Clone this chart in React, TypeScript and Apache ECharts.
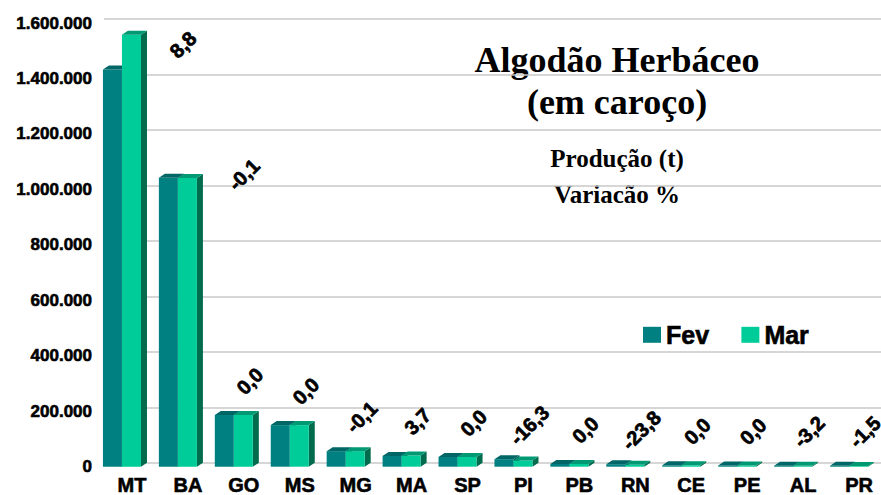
import React, { useEffect, useRef } from "react";
import * as echarts from "echarts";

const categories = ["MT", "BA", "GO", "MS", "MG", "MA", "SP", "PI", "PB", "RN", "CE", "PE", "AL", "PR"];
const fevValues = [1432000, 1042000, 186000, 150000, 56000, 39000, 35000, 27000, 10000, 9000, 5000, 4500, 3500, 3000];
const marValues = [1558000, 1041000, 186000, 150000, 56000, 40400, 35000, 22600, 10000, 6900, 5000, 4500, 3400, 2950];
const variationLabels = ["8,8", "-0,1", "0,0", "0,0", "-0,1", "3,7", "0,0", "-16,3", "0,0", "-23,8", "0,0", "0,0", "-3,2", "-1,5"];
const yMin = 0;
const yMax = 1600000;
const yInterval = 200000;

// layout / style (not data)
const labelOffsets: [number, number][] = categories.map((c, i) =>
  i === 0 ? [61, 10] : i === 1 ? [66, -3] : [16, -34]
);
const FEV = { front: "#008080", top: "#006666", side: "#005c5c" };
const MAR = { front: "#00CC99", top: "#009973", side: "#006B4D" };
const DX = 6;
const DY = 4;
const SANS = '"Liberation Sans", Arial, sans-serif';
const SERIF = '"Liberation Serif", "Times New Roman", serif';
const HEAVY = { textBorderColor: "#000", textBorderWidth: 0.6 };

const fmt = (v: number) => String(v).replace(/\B(?=(\d{3})+(?!\d))/g, ".");

function barRenderer(side: 0 | 1, col: { front: string; top: string; side: string }) {
  return (params: any, api: any) => {
    const idx = api.value(0);
    const val = api.value(1);
    const p = api.coord([idx, val]);
    const p0 = api.coord([idx, 0]);
    const band = api.size([1, 0])[0];
    const w = band * 0.34;
    const x0 = side === 0 ? p[0] - w : p[0];
    const yTop = p[1];
    const y0 = p0[1];
    return {
      type: "group",
      children: [
        {
          type: "polygon",
          shape: { points: [[x0 + w, yTop], [x0 + w + DX, yTop - DY], [x0 + w + DX, y0 - DY], [x0 + w, y0]] },
          style: { fill: col.side },
        },
        { type: "rect", shape: { x: x0, y: yTop, width: w, height: y0 - yTop }, style: { fill: col.front } },
        {
          type: "polygon",
          shape: { points: [[x0, yTop], [x0 + DX, yTop - DY], [x0 + w + DX, yTop - DY], [x0 + w, yTop]] },
          style: { fill: col.top },
        },
      ],
    };
  };
}

function titleText(text: string, y: number, size: number) {
  return {
    type: "text",
    x: 617,
    y,
    style: {
      text,
      fill: "#000",
      font: `bold ${size}px ${SERIF}`,
      textAlign: "center",
      textVerticalAlign: "middle",
      align: "center",
      verticalAlign: "middle",
    },
  };
}

export default function App() {
  const ref = useRef<HTMLDivElement>(null);
  useEffect(() => {
    if (!ref.current) return;
    const chart = echarts.init(ref.current, undefined, { renderer: "svg" });
    const fevData = categories.map((c, i) => [i, fevValues[i]]);
    const marData = categories.map((c, i) => [i, marValues[i]]);
    const labelData = categories.map((c, i) => [i, Math.max(fevValues[i], marValues[i])]);
    const option: any = {
      animation: false,
      backgroundColor: "#ffffff",
      grid: [
        { left: 94, right: 4, top: 23, bottom: 27 },
        { left: 104, right: 0, top: 19, bottom: 32 },
      ],
      xAxis: [
        {
          type: "category",
          gridIndex: 0,
          data: categories,
          axisLine: { show: false },
          axisTick: { show: false },
          axisLabel: {
            margin: 8,
            fontSize: 20,
            fontWeight: "bold",
            fontFamily: SANS,
            color: "#000",
            padding: [0, 0, 0, 20],
            ...HEAVY,
          },
        },
        { type: "value", gridIndex: 1, show: false, min: 0, max: 1 },
      ],
      yAxis: [
        {
          type: "value",
          gridIndex: 0,
          min: yMin,
          max: yMax,
          interval: yInterval,
          axisLine: { show: false },
          axisTick: { show: false },
          splitLine: { show: false },
          axisLabel: {
            margin: 2,
            fontSize: 17,
            fontWeight: "bold",
            fontFamily: SANS,
            color: "#000",
            formatter: (v: number) => fmt(v),
            ...HEAVY,
          },
        },
        {
          type: "value",
          gridIndex: 1,
          min: yMin,
          max: yMax,
          interval: yInterval,
          axisLine: { show: false },
          axisTick: { show: false },
          axisLabel: { show: false },
          splitLine: { show: true, lineStyle: { color: "#C8C8C8", width: 1.5 } },
        },
      ],
      legend: {
        left: 638,
        top: 317,
        icon: "rect",
        itemWidth: 18,
        itemHeight: 16,
        itemGap: 32,
        textStyle: { fontSize: 25, fontWeight: "bold", fontFamily: SANS, color: "#000", ...HEAVY },
        data: [
          { name: "Fev", itemStyle: { color: FEV.front } },
          { name: "Mar", itemStyle: { color: MAR.front } },
        ],
      },
      graphic: [
        titleText("Algodão Herbáceo", 60, 36),
        titleText("(em caroço)", 102, 36),
        titleText("Produção (t)", 158, 25),
        titleText("Variacão %", 194, 25),
      ],
      series: [
        {
          name: "Fev",
          type: "custom",
          xAxisIndex: 0,
          yAxisIndex: 0,
          itemStyle: { color: FEV.front },
          renderItem: barRenderer(0, FEV),
          encode: { x: 0, y: 1 },
          data: fevData,
          clip: false,
          z: 3,
        },
        {
          name: "Mar",
          type: "custom",
          xAxisIndex: 0,
          yAxisIndex: 0,
          itemStyle: { color: MAR.front },
          renderItem: barRenderer(1, MAR),
          encode: { x: 0, y: 1 },
          data: marData,
          clip: false,
          z: 4,
        },
        {
          name: "Variação",
          type: "custom",
          xAxisIndex: 0,
          yAxisIndex: 0,
          renderItem: (params: any, api: any) => {
            const i = params.dataIndex;
            const p = api.coord([api.value(0), api.value(1)]);
            const off = labelOffsets[i];
            return {
              type: "text",
              x: p[0] + off[0],
              y: p[1] + off[1],
              rotation: Math.PI / 4,
              style: {
                text: variationLabels[i],
                fill: "#000",
                fontSize: 20,
                fontWeight: "bold",
                fontFamily: SANS,
                stroke: "#000",
                lineWidth: 0.7,
                align: "center",
                verticalAlign: "middle",
              },
            };
          },
          encode: { x: 0, y: 1 },
          data: labelData,
          clip: false,
          z: 5,
        },
      ],
    };
    chart.setOption(option);
    return () => chart.dispose();
  }, []);
  return <div ref={ref} style={{ position: "fixed", left: 0, top: 0, width: 881, height: 495 }} />;
}
